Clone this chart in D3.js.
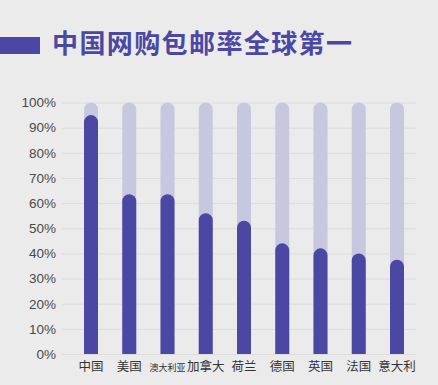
<!DOCTYPE html>
<html>
<head>
<meta charset="utf-8">
<script src="https://cdn.jsdelivr.net/npm/d3@7"></script>
<style>
  body { margin: 0; background: #ebebeb; }
  svg { display: block; font-family: "Noto Sans CJK SC", sans-serif; }
</style>
</head>
<body>
<div id="chart1"></div>
<script>
// DATA
const countries = ["中国", "美国", "澳大利亚", "加拿大", "荷兰", "德国", "英国", "法国", "意大利"];
const rates = [95, 63.5, 63.5, 56, 53, 44, 42, 40, 37.5];
const yTicks = [0, 10, 20, 30, 40, 50, 60, 70, 80, 90, 100];
const title = "中国网购包邮率全球第一";

const chartwidth = 438;
const chartheight = 385;
const margin = {top: 102.5, left: 62, right: 22, bottom: 31};

const svg = d3.select("#chart1")
    .append("svg")
    .attr("width", chartwidth)
    .attr("height", chartheight);

svg.append("rect")
    .attr("width", chartwidth)
    .attr("height", chartheight)
    .attr("fill", "#ebebeb");

// TITLE
svg.append("rect")
    .attr("x", 0).attr("y", 37)
    .attr("width", 40).attr("height", 17)
    .attr("fill", "#4b48a4");

svg.append("text")
    .attr("x", 52)
    .attr("y", 53)
    .attr("font-size", 26)
    .attr("font-weight", "bold")
    .attr("letter-spacing", 1.4)
    .attr("fill", "#4b48a4")
    .text(title);

// SCALES
const xScale = d3.scalePoint()
    .domain(countries)
    .range([91, 397]);

const yScale = d3.scaleLinear()
    .domain([0, 100])
    .range([chartheight - margin.bottom, margin.top]);

// GRID + Y AXIS
const yAxis = svg.append("g")
    .attr("transform", `translate(${margin.left},0)`)
    .call(d3.axisLeft(yScale)
        .tickValues(yTicks)
        .tickSize(-(chartwidth - margin.left - margin.right))
        .tickPadding(6)
        .tickFormat(d => d + "%"));

yAxis.select(".domain").remove();
yAxis.selectAll(".tick line").attr("stroke", "#dcdcdc").attr("stroke-width", 1);
yAxis.selectAll(".tick text")
    .attr("font-family", "'Liberation Sans', Arial, sans-serif")
    .attr("font-size", 13.5)
    .attr("fill", "#4a4a4a");

// MARKS
const barW = 14;
function roundBar(cx, yTop, yBottom) {
    const r = barW / 2;
    return `M${cx - r},${yBottom} L${cx - r},${yTop + r} A${r},${r} 0 0 1 ${cx + r},${yTop + r} L${cx + r},${yBottom} Z`;
}

const data = countries.map((c, i) => ({country: c, rate: rates[i]}));

svg.selectAll(".bg")
    .data(data)
    .enter()
    .append("path")
    .attr("class", "bg")
    .attr("d", d => roundBar(xScale(d.country), yScale(100), yScale(0)))
    .attr("fill", "#c7c8e0");

svg.selectAll(".fg")
    .data(data)
    .enter()
    .append("path")
    .attr("class", "fg")
    .attr("d", d => roundBar(xScale(d.country), yScale(d.rate), yScale(0)))
    .attr("fill", "#4b48a4");

// X LABELS
svg.selectAll(".xlab")
    .data(data)
    .enter()
    .append("text")
    .attr("class", "xlab")
    .attr("x", d => xScale(d.country))
    .attr("y", 370.5)
    .attr("text-anchor", "middle")
    .attr("font-size", d => d.country.length > 3 ? 9 : 12.5)
    .attr("fill", "#333")
    .text(d => d.country);
</script>
</body>
</html>
